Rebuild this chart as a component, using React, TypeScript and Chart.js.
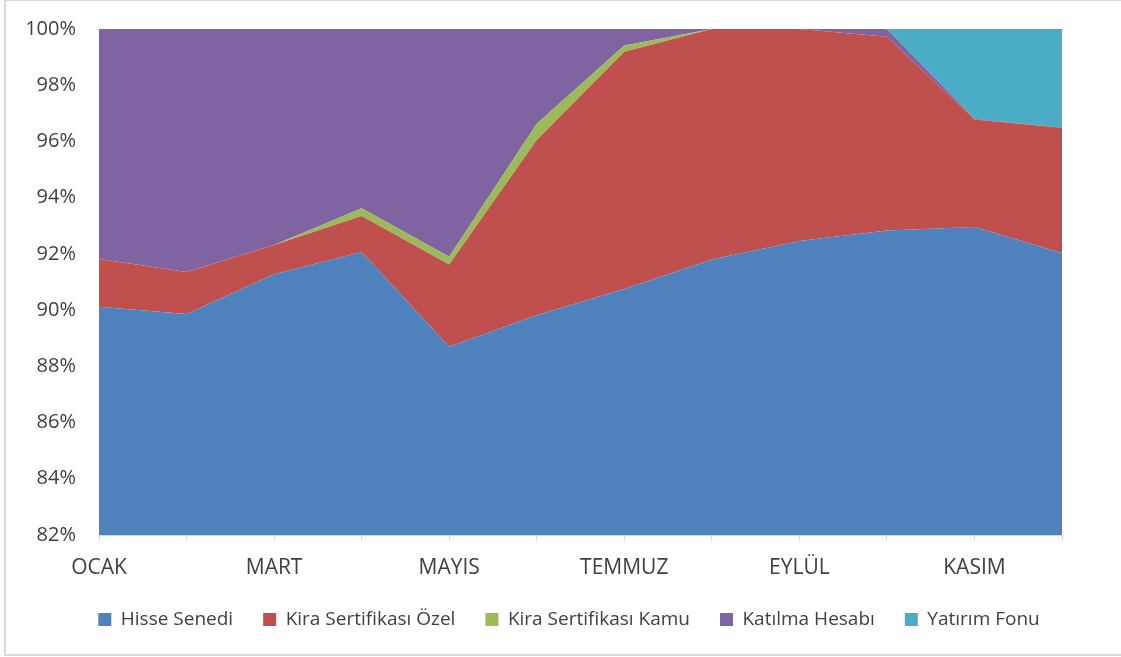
import React, { useEffect, useRef } from 'react';
import { Chart, registerables } from 'chart.js';

Chart.register(...registerables);

const months = ['OCAK', 'ŞUBAT', 'MART', 'NİSAN', 'MAYIS', 'HAZİRAN', 'TEMMUZ', 'AĞUSTOS', 'EYLÜL', 'EKİM', 'KASIM', 'ARALIK'];

const hisseSenedi = [90.12, 89.86, 91.28, 92.07, 88.70, 89.82, 90.75, 91.80, 92.46, 92.83, 92.96, 92.03];
const kiraOzel = [1.70, 1.50, 1.04, 1.28, 2.92, 6.23, 8.44, 8.20, 7.54, 6.89, 3.82, 4.46];
const kiraKamu = [0, 0, 0, 0.27, 0.28, 0.58, 0.22, 0, 0, 0, 0, 0];
const katilmaHesabi = [8.18, 8.64, 7.68, 6.38, 8.10, 3.37, 0.59, 0, 0, 0.28, 0.03, 0];
const yatirimFonu = [0, 0, 0, 0, 0, 0, 0, 0, 0, 0, 3.19, 3.51];

const yTicks = [82, 84, 86, 88, 90, 92, 94, 96, 98, 100];

const seriesNames = ['Hisse Senedi', 'Kira Sertifikası Özel', 'Kira Sertifikası Kamu', 'Katılma Hesabı', 'Yatırım Fonu'];
const seriesData = [hisseSenedi, kiraOzel, kiraKamu, katilmaHesabi, yatirimFonu];
const seriesColors = ['#4F81BD', '#C0504D', '#9BBB59', '#8064A2', '#4BACC6'];

const FONT = "'Open Sans', 'DejaVu Sans', sans-serif";
const TEXT = '#404040';

export default function App() {
  const ref = useRef<HTMLCanvasElement | null>(null);

  useEffect(() => {
    if (!ref.current) return;
    const chart = new Chart(ref.current, {
      type: 'line',
      data: {
        labels: months,
        datasets: seriesNames.map((name, i) => ({
          label: name,
          data: seriesData[i],
          backgroundColor: seriesColors[i],
          borderColor: seriesColors[i],
          borderWidth: 0,
          pointRadius: 0,
          pointHoverRadius: 0,
          tension: 0,
          fill: i === 0 ? 'origin' : '-1',
        })),
      },
      options: {
        animation: false,
        responsive: false,
        maintainAspectRatio: false,
        layout: { padding: { left: 17, right: 0, top: 29, bottom: 18 } },
        plugins: {
          legend: {
            position: 'bottom',
            labels: {
              boxWidth: 13,
              boxHeight: 13,
              padding: 30,
              color: TEXT,
              font: { family: FONT, size: 19 },
            },
          },
          tooltip: { enabled: false },
        },
        scales: {
          x: {
            offset: false,
            grid: {
              display: true,
              drawOnChartArea: false,
              drawTicks: true,
              tickLength: 6,
              color: '#d9d9d9',
            },
            border: { display: true, color: '#d9d9d9' },
            ticks: {
              autoSkip: false,
              maxRotation: 0,
              minRotation: 0,
              padding: 14,
              color: TEXT,
              font: { family: FONT, size: 21 },
              callback: (_v: any, i: number) => (i % 2 === 0 ? months[i] : ''),
            },
            afterFit: (s: any) => {
              s.height = 45;
            },
          },
          y: {
            stacked: true,
            min: yTicks[0],
            max: yTicks[yTicks.length - 1],
            afterBuildTicks: (s: any) => {
              s.ticks = yTicks.map((v) => ({ value: v }));
            },
            grid: {
              display: true,
              drawOnChartArea: false,
              drawTicks: true,
              tickLength: 20,
              color: 'rgba(0,0,0,0)',
            },
            border: { display: false },
            ticks: {
              padding: 3,
              color: TEXT,
              font: { family: FONT, size: 20 },
              callback: (v: any) => `${v}%`,
            },
            afterFit: (s: any) => {
              s.width = 82;
            },
          },
          y2: {
            type: 'linear',
            position: 'right',
            display: true,
            grid: { display: false, drawTicks: false },
            border: { display: false },
            ticks: { display: false },
            afterFit: (s: any) => {
              s.width = 59;
            },
          },
        },
      } as any,
    });
    return () => chart.destroy();
  }, []);

  return (
    <div style={{ position: 'absolute', left: 0, top: 0, width: 1121, height: 657, background: '#fff' }}>
      <div
        style={{
          position: 'absolute',
          left: 4,
          top: -1,
          width: 1130,
          height: 657,
          boxSizing: 'border-box',
          border: '2px solid #d9d9d9',
        }}
      />
      <canvas ref={ref} width={1121} height={657} style={{ position: 'absolute', left: 0, top: 0, width: 1121, height: 657 }} />
    </div>
  );
}
